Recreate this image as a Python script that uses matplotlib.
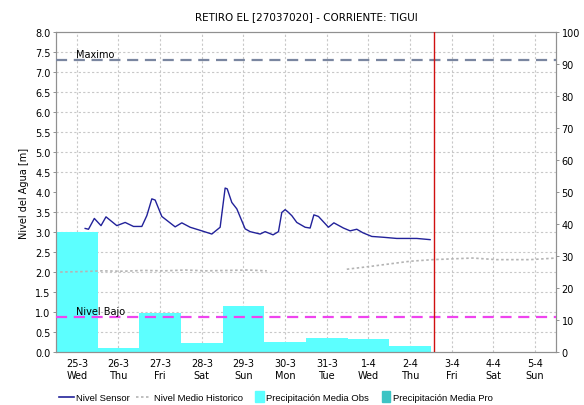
import matplotlib
matplotlib.use('Agg')
import matplotlib.pyplot as plt
import numpy as np
from matplotlib.lines import Line2D
from matplotlib.patches import Patch, Rectangle
from matplotlib.legend_handler import HandlerPatch

# Dias (etiquetas del eje x), tiempo en dias desde 25-3 00:00
dias = ['25-3', '26-3', '27-3', '28-3', '29-3', '30-3', '31-3', '1-4', '2-4', '3-4', '4-4', '5-4']
dias_semana = ['Wed', 'Thu', 'Fri', 'Sat', 'Sun', 'Mon', 'Tue', 'Wed', 'Thu', 'Fri', 'Sat', 'Sun']

# Precipitacion media observada por dia [mm]
precip_obs = [37.5, 1.2, 12.2, 2.8, 14.5, 3.0, 4.4, 4.1, 2.0]

# Nivel del sensor
t_sensor = [0.70, 0.78, 0.92, 1.08, 1.20, 1.46, 1.66, 1.86, 2.06, 2.18, 2.30, 2.38,
            2.54, 2.86, 3.02, 3.22, 3.50, 3.74, 3.94, 4.06, 4.11, 4.22, 4.34, 4.54,
            4.66, 4.90, 5.02, 5.21, 5.34, 5.42, 5.50, 5.56, 5.66, 5.78, 5.98, 6.10,
            6.19, 6.30, 6.54, 6.67, 6.90, 7.06, 7.22, 7.37, 7.58, 7.85, 8.18, 8.66, 8.98]
nivel_sensor = [3.09, 3.07, 3.34, 3.16, 3.38, 3.16, 3.24, 3.14, 3.14, 3.41, 3.83, 3.80,
                3.39, 3.13, 3.23, 3.12, 3.03, 2.95, 3.12, 4.10, 4.08, 3.74, 3.58, 3.08,
                3.01, 2.95, 3.01, 2.93, 3.01, 3.49, 3.56, 3.51, 3.41, 3.24, 3.12, 3.10,
                3.43, 3.39, 3.12, 3.23, 3.10, 3.03, 3.07, 2.98, 2.89, 2.87, 2.84, 2.84, 2.81]

# Nivel medio historico (dos tramos)
t_hist_1 = [0.10, 0.60, 1.10, 1.60, 2.10, 2.60, 3.10, 3.60, 4.10, 4.60, 5.06]
nivel_hist_1 = [2.00, 2.01, 2.03, 2.02, 2.04, 2.03, 2.05, 2.03, 2.04, 2.05, 2.03]
t_hist_2 = [6.98, 7.54, 8.50, 9.05, 10.00, 10.58, 11.38, 12.00]
nivel_hist_2 = [2.07, 2.14, 2.27, 2.31, 2.35, 2.31, 2.31, 2.35]

nivel_maximo = 7.3
nivel_bajo = 0.87
t_actual = 9.07

fig = plt.figure(figsize=(5.84, 4.06), dpi=100)
ax2 = fig.add_axes([0.0959, 0.1305, 0.856, 0.788])
ax = ax2.twinx()
ax.yaxis.tick_left()
ax.yaxis.set_label_position('left')
ax2.yaxis.tick_right()
ax.set_zorder(ax2.get_zorder() + 1)
ax.patch.set_visible(False)

# Barras de precipitacion (eje derecho)
ax2.bar(np.arange(len(precip_obs)), precip_obs, width=1.0, align='edge',
        color='#5CFFFF', edgecolor='none', zorder=2)
ax2.set_ylim(0, 100)
ax2.set_yticks(np.arange(0, 101, 10))
ax2.set_yticks(np.arange(0, 101, 6.25), minor=True)
ax2.grid(which='minor', axis='y', color='#C8C8C8', linestyle=(0, (2, 2)), linewidth=0.8, zorder=0)
ax2.grid(which='major', axis='x', color='#C8C8C8', linestyle=(0, (2, 2)), linewidth=0.8, zorder=0)

# Niveles (eje izquierdo)
ax.plot(t_sensor, nivel_sensor, color='#22229A', linewidth=1.0, zorder=5)
ax.plot(t_hist_1, nivel_hist_1, color='#B4B4B4', linestyle=(0, (1.5, 1.5)), linewidth=1.2, zorder=4)
ax.plot(t_hist_2, nivel_hist_2, color='#B4B4B4', linestyle=(0, (1.5, 1.5)), linewidth=1.2, zorder=4)
ax.axhline(nivel_maximo, color='#7A86A0', linestyle=(0, (5, 3)), linewidth=1.6, zorder=3)
ax.axhline(nivel_bajo, color='#EE44EE', linestyle=(0, (5, 3)), linewidth=1.6, zorder=3)
ax.axvline(t_actual, color='#D01010', linewidth=1.0, zorder=6)
ax.text(0.48, nivel_maximo + 0.03, 'Maximo', fontsize=7, va='bottom', ha='left')
ax.text(0.48, nivel_bajo + 0.03, 'Nivel Bajo', fontsize=7, va='bottom', ha='left')

ax.set_xlim(0, 12)
ax.set_ylim(0, 8)
ax.set_yticks(np.arange(0, 8.01, 0.5))
ax.set_yticklabels(['%.1f' % v for v in np.arange(0, 8.01, 0.5)])
ax2.set_xticks(np.arange(len(dias)) + 0.5)
ax2.set_xticklabels([d + '\n' + s for d, s in zip(dias, dias_semana)], linespacing=1.25)
ax.set_ylabel('Nivel del Agua [m]', fontsize=7)

for a in (ax, ax2):
    a.tick_params(labelsize=7, length=2, width=0.6, color='#808080', pad=2)
    for s in a.spines.values():
        s.set_color('#909090')
        s.set_linewidth(0.8)
ax2.tick_params(axis='x', length=0, pad=4)
ax2.tick_params(axis='y', which='minor', length=0)

ax.set_title('RETIRO EL [27037020] - CORRIENTE: TIGUI', fontsize=7.5, pad=9)


# cuadrito angosto para las leyendas de precipitacion
def cuadro(legend, orig_handle, xdescent, ydescent, width, height, fontsize):
    return Rectangle((width - 6 - xdescent, -ydescent - 1.5), 6, height + 3)


handles = [Line2D([], [], color='#22229A', linewidth=1.2),
           Line2D([], [], color='#B4B4B4', linestyle=(0, (1.5, 1.5)), linewidth=1.2),
           Patch(color='#5CFFFF'),
           Patch(color='#3CC4C4')]
labels = ['Nivel Sensor', 'Nivel Medio Historico', 'Precipitación Media Obs', 'Precipitación Media Pro']
fig.legend(handles, labels, loc='center', bbox_to_anchor=(0.472, 0.018), ncol=4, frameon=False,
           prop={'family': 'Liberation Sans', 'size': 6.8}, handlelength=1.6, handletextpad=0.3,
           columnspacing=0.6, borderpad=0,
           handler_map={Patch: HandlerPatch(patch_func=cuadro)})

fig.savefig('out.png', dpi=100)
